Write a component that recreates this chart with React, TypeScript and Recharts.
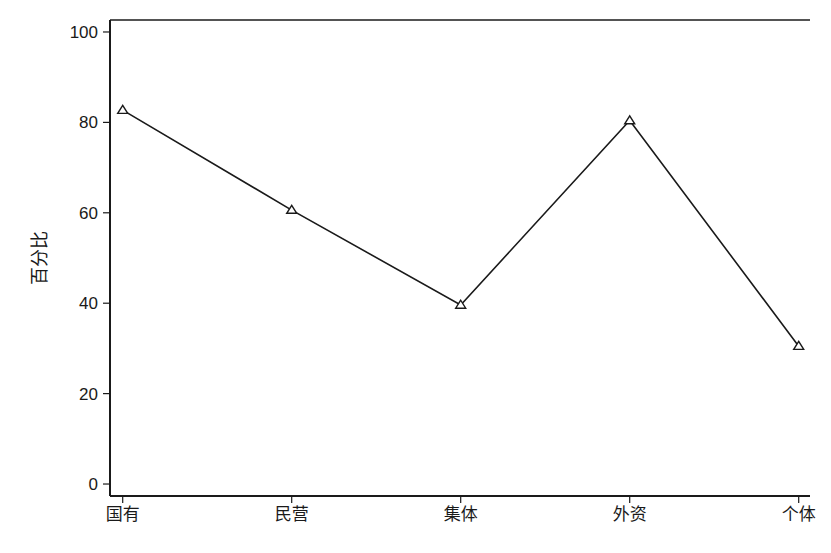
import { LineChart, Line, XAxis, YAxis } from "recharts";

const CATEGORIES = ["国有", "民营", "集体", "外资", "个体"];
const PERCENT = [82.7, 60.6, 39.6, 80.4, 30.5];
const Y_TICKS = [0, 20, 40, 60, 80, 100];

const data = CATEGORIES.map((name, i) => ({ name, value: PERCENT[i] }));

const FONT = "'Liberation Sans', 'Noto Sans CJK SC', Arial, sans-serif";
const INK = "#1a1a1a";

// hollow triangle marker, centred on the point
function TriangleDot(props: any) {
  const { cx, cy, index } = props;
  if (cx == null || cy == null) return null;
  const h = 8;
  const w = 10;
  const pts = `${cx},${cy - h * 0.6} ${cx - w / 2},${cy + h * 0.4} ${cx + w / 2},${cy + h * 0.4}`;
  return <polygon key={index} points={pts} fill="#fff" stroke={INK} strokeWidth={1.4} />;
}

function YLabel(props: any) {
  const vb = props.viewBox || {};
  const x = 40;
  const y = vb.y + vb.height / 2;
  return (
    <text x={x} y={y} transform={`rotate(-90 ${x} ${y})`} textAnchor="middle"
          dominantBaseline="central" fill={INK} fontSize={18} fontFamily={FONT}>
      百分比
    </text>
  );
}

export default function App() {
  const tick = { fill: INK, fontSize: 17, fontFamily: FONT };
  return (
    <div style={{ position: "absolute", left: 0, top: 0, width: 831, height: 553, background: "#fff" }}>
      <LineChart width={831} height={553} data={data}
                 margin={{ top: 10, right: 21, left: 50, bottom: 27 }}>
        <XAxis dataKey="name" height={30} tick={tick} tickSize={7} tickMargin={5}
               axisLine={{ stroke: INK, strokeWidth: 2 }} tickLine={{ stroke: INK, strokeWidth: 1.2 }}
               padding={{ left: 12.7, right: 11.3 }} interval={0} />
        <XAxis xAxisId="top" orientation="top" dataKey="name" height={10} tick={false} tickLine={false}
               axisLine={{ stroke: INK, strokeWidth: 1.5 }} />
        <YAxis width={60} type="number" domain={[-2.65, 102.65]} ticks={Y_TICKS} tick={tick}
               tickSize={7} tickMargin={5} allowDataOverflow
               axisLine={{ stroke: INK, strokeWidth: 2 }} tickLine={{ stroke: INK, strokeWidth: 1.2 }}
               label={<YLabel />} />
        <YAxis yAxisId="right" orientation="right" width={0} tick={false} tickLine={false}
               domain={[-2.65, 102.65]} axisLine={{ stroke: INK, strokeWidth: 1.5 }} />
        <Line dataKey="value" stroke={INK} strokeWidth={1.6} dot={<TriangleDot />}
              activeDot={false} isAnimationActive={false} />
      </LineChart>
    </div>
  );
}
